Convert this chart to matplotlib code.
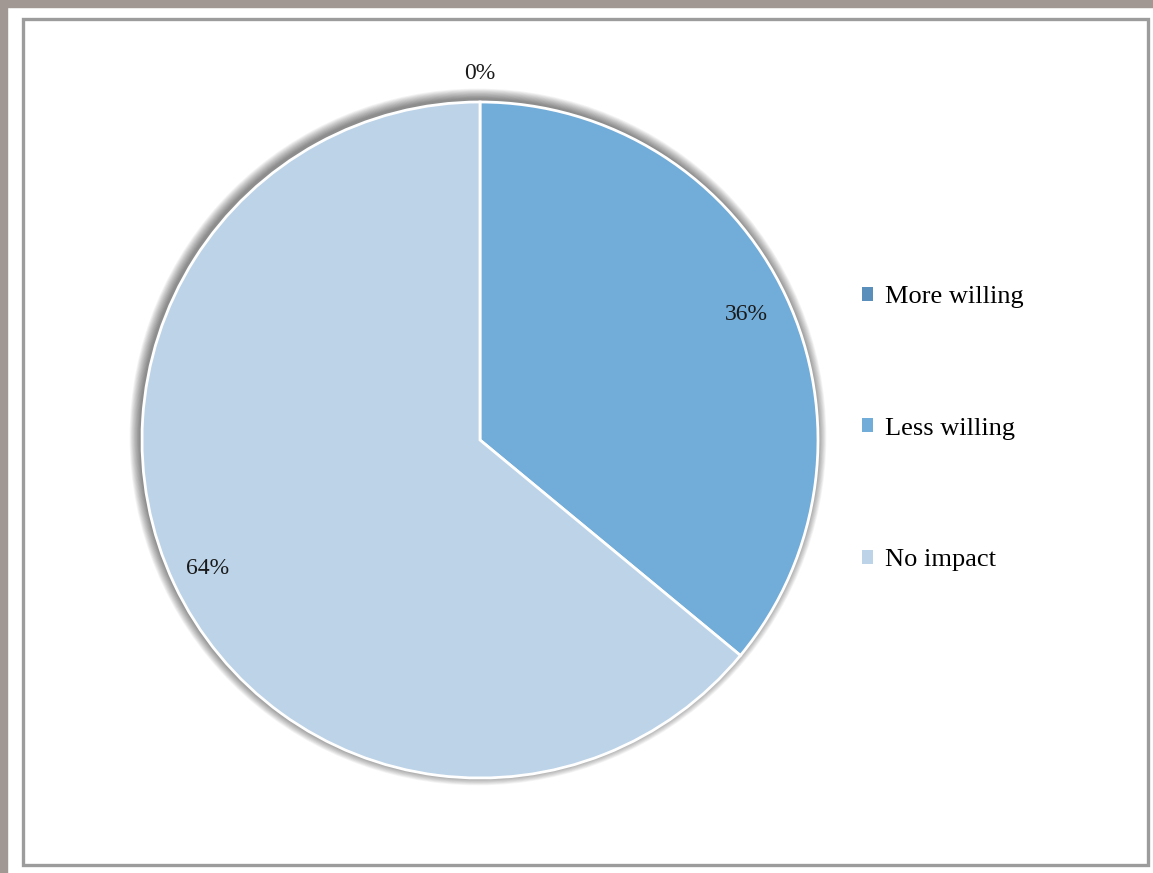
import numpy as np
import matplotlib.pyplot as plt
from matplotlib.patches import Rectangle, Circle

# survey answers (share of respondents)
categories = ['More willing', 'Less willing', 'No impact']
values = [0, 36, 64]
pct_labels = ['0%', '36%', '64%']
colors = ['#5a8fbb', '#72acd8', '#bcd3e8']

W, H = 1153, 873
fig = plt.figure(figsize=(W / 100, H / 100), dpi=100)
plt.rcParams['font.family'] = ['Liberation Serif', 'DejaVu Serif']

# outer grey page edge and inner chart frame
fig.patches.append(Rectangle((0, 1 - 7 / H), 1, 7 / H, transform=fig.transFigure,
                             color='#a19893', zorder=0))
fig.patches.append(Rectangle((0, 0), 7 / W, 1, transform=fig.transFigure,
                             color='#a19893', zorder=0))
fig.patches.append(Rectangle((22.5 / W, 1 - 864.5 / H), 1125 / W, 846 / H,
                             transform=fig.transFigure, fill=False,
                             edgecolor='#9c9c9c', linewidth=2.4, zorder=1))

# pie axes: centre (480, 440) px, radius 338 px
cx, cy, r = 480, 440, 338
half = 400
ax = fig.add_axes([(cx - half) / W, (H - cy - half) / H, 2 * half / W, 2 * half / H])
lim = half / r

# soft shadow around the pie, heavier towards the top left
n = 14
for i in range(n):
    ax.add_patch(Circle((-0.006, 0.009), 1 + 0.0022 * (i + 1), color='black',
                        alpha=0.04, zorder=0, lw=0))

wedges, _ = ax.pie(values, colors=colors, startangle=90, counterclock=False,
                   radius=1, wedgeprops=dict(edgecolor='white', linewidth=2),
                   center=(0, 0), frame=True)
ax.set_xlim(-lim, lim)
ax.set_ylim(-lim, lim)
ax.set_aspect('equal')
ax.axis('off')

# percentage labels
start = 90
dists = [1.085, 0.87, 0.89]
for v, lab, d in zip(values, pct_labels, dists):
    mid = np.deg2rad(start - v / 100 * 360 / 2)
    ax.text(d * np.cos(mid), d * np.sin(mid), lab, ha='center', va='center',
            fontsize=17, color='#1a1a1a')
    start -= v / 100 * 360

fig.legend(wedges, categories, loc='upper left', bbox_to_anchor=(849 / W, 1 - 273 / H),
           frameon=False, fontsize=19, labelspacing=4.15, handlelength=0.42,
           handleheight=0.42, handletextpad=0.45, borderpad=0)
for h in fig.legends[0].legend_handles:
    h.set_edgecolor('none')

fig.savefig('out.png', dpi=100)
